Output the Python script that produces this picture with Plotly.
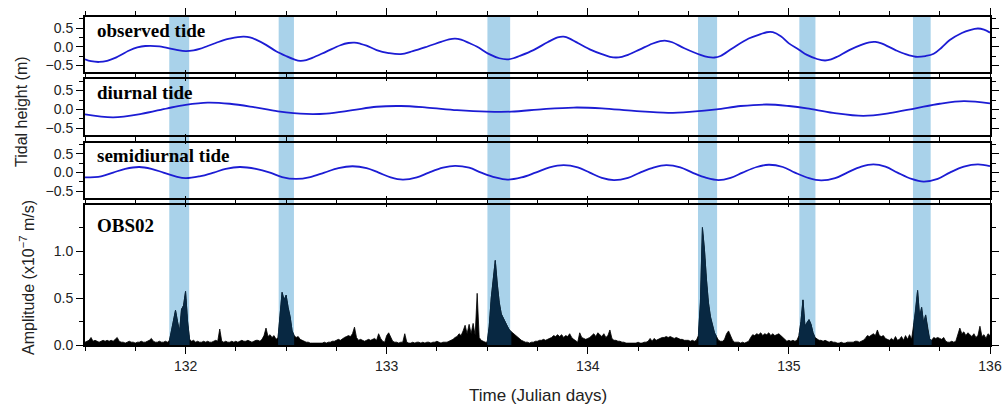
import plotly.graph_objects as go

# ---------------- data ----------------
obs_days = [131.50, 131.53, 131.57, 131.61, 131.65, 131.72, 131.76, 131.80, 131.87, 131.95,
            132.00, 132.04, 132.07, 132.11, 132.15, 132.19, 132.22, 132.26, 132.29, 132.32,
            132.35, 132.40, 132.45, 132.50, 132.54, 132.57, 132.60, 132.63, 132.70, 132.77,
            132.81, 132.84, 132.87, 132.90, 132.95, 133.01, 133.07, 133.13, 133.20, 133.27,
            133.31, 133.34, 133.37, 133.41, 133.45, 133.51, 133.56, 133.60, 133.63, 133.66,
            133.73, 133.80, 133.85, 133.88, 133.91, 133.94, 134.01, 134.07, 134.11, 134.14,
            134.17, 134.20, 134.26, 134.32, 134.36, 134.39, 134.42, 134.48, 134.56, 134.60,
            134.63, 134.66, 134.72, 134.80, 134.86, 134.89, 134.92, 134.96, 135.00, 135.05,
            135.09, 135.14, 135.18, 135.21, 135.24, 135.30, 135.36, 135.40, 135.43, 135.46,
            135.53, 135.58, 135.63, 135.68, 135.72, 135.76, 135.80, 135.86, 135.90, 135.94,
            135.97, 136.00]
obs_vals = [-0.34, -0.39, -0.41, -0.38, -0.30, -0.10, -0.02, 0.02, 0.01, -0.08,
            -0.12, -0.10, -0.06, 0.02, 0.10, 0.18, 0.22, 0.26, 0.27, 0.25,
            0.19, 0.05, -0.12, -0.25, -0.34, -0.38, -0.36, -0.30, -0.13, 0.04,
            0.10, 0.11, 0.08, 0.03, -0.09, -0.17, -0.20, -0.12, 0.00, 0.13,
            0.20, 0.22, 0.19, 0.10, 0.00, -0.20, -0.31, -0.34, -0.31, -0.25,
            -0.09, 0.12, 0.25, 0.27, 0.22, 0.13, -0.07, -0.20, -0.27, -0.29,
            -0.27, -0.22, -0.07, 0.08, 0.15, 0.16, 0.12, -0.04, -0.22, -0.28,
            -0.29, -0.25, -0.04, 0.22, 0.34, 0.39, 0.39, 0.28, 0.09, -0.08,
            -0.22, -0.33, -0.37, -0.34, -0.27, -0.09, 0.05, 0.12, 0.13, 0.09,
            -0.09, -0.20, -0.27, -0.25, -0.19, -0.02, 0.18, 0.37, 0.45, 0.49,
            0.46, 0.38]

diu_days = [131.50, 131.64, 131.78, 131.91, 132.00, 132.11, 132.22, 132.34, 132.46, 132.60,
            132.70, 132.83, 132.95, 133.07, 133.20, 133.35, 133.50, 133.62, 133.78, 133.93,
            134.07, 134.23, 134.40, 134.52, 134.64, 134.76, 134.89, 135.00, 135.09, 135.22,
            135.37, 135.50, 135.63, 135.75, 135.87, 136.00]
diu_vals = [-0.13, -0.21, -0.12, 0.03, 0.12, 0.18, 0.15, 0.06, -0.05, -0.12,
            -0.11, -0.02, 0.07, 0.09, 0.05, -0.02, -0.06, -0.06, 0.01, 0.05,
            0.03, -0.04, -0.09, -0.06, 0.00, 0.09, 0.13, 0.09, 0.03, -0.09,
            -0.17, -0.10, 0.03, 0.15, 0.22, 0.16]

semi_days = [131.50, 131.58, 131.64, 131.70, 131.77, 131.83, 131.89, 131.95, 132.00, 132.07,
             132.14, 132.20, 132.27, 132.35, 132.42, 132.48, 132.55, 132.62, 132.69, 132.76,
             132.83, 132.90, 132.96, 133.02, 133.08, 133.15, 133.21, 133.28, 133.34, 133.41,
             133.47, 133.54, 133.60, 133.67, 133.74, 133.81, 133.88, 133.95, 134.01, 134.07,
             134.13, 134.20, 134.26, 134.33, 134.39, 134.46, 134.52, 134.59, 134.65, 134.71,
             134.77, 134.84, 134.90, 134.97, 135.03, 135.10, 135.16, 135.23, 135.29, 135.36,
             135.42, 135.48, 135.54, 135.61, 135.67, 135.74, 135.80, 135.87, 135.94, 136.00]
semi_vals = [-0.13, -0.10, 0.00, 0.10, 0.15, 0.10, 0.00, -0.10, -0.15, -0.10,
             0.00, 0.10, 0.15, 0.10, 0.00, -0.12, -0.17, -0.12, 0.00, 0.12,
             0.17, 0.12, 0.00, -0.13, -0.19, -0.13, 0.00, 0.13, 0.18, 0.13,
             0.00, -0.13, -0.19, -0.13, 0.00, 0.14, 0.20, 0.14, 0.00, -0.14,
             -0.20, -0.14, 0.00, 0.14, 0.20, 0.14, 0.00, -0.14, -0.20, -0.14,
             0.00, 0.15, 0.21, 0.15, 0.00, -0.15, -0.21, -0.15, 0.00, 0.16,
             0.22, 0.16, 0.00, -0.17, -0.24, -0.17, 0.00, 0.16, 0.22, 0.17]

# OBS02 amplitude, one value every 0.01 day from 131.50 to 136.00
amp_start = 131.50
amp_step = 0.01
amp_vals = [
    0.03, 0.04, 0.05, 0.08, 0.04, 0.05, 0.04, 0.03, 0.04, 0.05,   # 131.5
    0.04, 0.05, 0.04, 0.05, 0.04, 0.06, 0.08, 0.04, 0.03, 0.03,   # 131.6
    0.02, 0.03, 0.04, 0.03, 0.03, 0.02, 0.03, 0.03, 0.04, 0.03,   # 131.7
    0.03, 0.04, 0.05, 0.07, 0.04, 0.03, 0.03, 0.04, 0.03, 0.03,   # 131.8
    0.04, 0.03, 0.05, 0.15, 0.28, 0.37, 0.25, 0.14, 0.38, 0.42,   # 131.9
    0.57, 0.25, 0.06, 0.04, 0.05, 0.03, 0.04, 0.03, 0.03, 0.04,   # 132.0
    0.03, 0.04, 0.03, 0.03, 0.04, 0.05, 0.04, 0.17, 0.04, 0.03,   # 132.1
    0.04, 0.03, 0.03, 0.04, 0.03, 0.04, 0.03, 0.04, 0.05, 0.04,   # 132.2
    0.04, 0.05, 0.04, 0.03, 0.04, 0.05, 0.05, 0.04, 0.06, 0.10,   # 132.3
    0.18, 0.09, 0.11, 0.08, 0.10, 0.06, 0.08, 0.35, 0.56, 0.48,   # 132.4
    0.53, 0.40, 0.30, 0.15, 0.10, 0.08, 0.09, 0.06, 0.05, 0.04,   # 132.5
    0.03, 0.03, 0.02, 0.02, 0.02, 0.02, 0.02, 0.02, 0.02, 0.03,   # 132.6
    0.02, 0.03, 0.03, 0.04, 0.04, 0.05, 0.06, 0.05, 0.07, 0.08,   # 132.7
    0.09, 0.10, 0.09, 0.12, 0.19, 0.08, 0.05, 0.06, 0.05, 0.04,   # 132.8
    0.05, 0.06, 0.05, 0.06, 0.07, 0.05, 0.12, 0.07, 0.04, 0.03,   # 132.9
    0.10, 0.13, 0.08, 0.04, 0.03, 0.03, 0.02, 0.03, 0.03, 0.12,   # 133.0
    0.03, 0.02, 0.02, 0.03, 0.02, 0.03, 0.03, 0.02, 0.03, 0.02,   # 133.1
    0.03, 0.03, 0.02, 0.03, 0.03, 0.04, 0.03, 0.02, 0.03, 0.03,   # 133.2
    0.03, 0.04, 0.05, 0.06, 0.08, 0.09, 0.12, 0.10, 0.15, 0.21,   # 133.3
    0.12, 0.22, 0.12, 0.23, 0.10, 0.55, 0.08, 0.05, 0.04, 0.03,   # 133.4
    0.03, 0.20, 0.50, 0.68, 0.90, 0.65, 0.45, 0.33, 0.28, 0.25,   # 133.5
    0.20, 0.16, 0.14, 0.12, 0.10, 0.08, 0.07, 0.05, 0.04, 0.03,   # 133.6
    0.03, 0.02, 0.03, 0.03, 0.04, 0.04, 0.05, 0.05, 0.06, 0.05,   # 133.7
    0.06, 0.07, 0.08, 0.10, 0.09, 0.11, 0.09, 0.11, 0.08, 0.10,   # 133.8
    0.09, 0.12, 0.08, 0.06, 0.04, 0.03, 0.13, 0.08, 0.07, 0.06,   # 133.9
    0.07, 0.08, 0.10, 0.12, 0.09, 0.13, 0.11, 0.09, 0.12, 0.08,   # 134.0
    0.10, 0.16, 0.07, 0.05, 0.05, 0.04, 0.04, 0.03, 0.03, 0.02,   # 134.1
    0.02, 0.02, 0.02, 0.02, 0.02, 0.03, 0.02, 0.02, 0.03, 0.03,   # 134.2
    0.04, 0.07, 0.04, 0.07, 0.05, 0.06, 0.07, 0.08, 0.08, 0.09,   # 134.3
    0.08, 0.09, 0.08, 0.07, 0.08, 0.07, 0.06, 0.06, 0.05, 0.05,   # 134.4
    0.05, 0.04, 0.05, 0.04, 0.05, 0.10, 0.45, 1.25, 1.02, 0.70,   # 134.5
    0.45, 0.30, 0.20, 0.13, 0.09, 0.05, 0.04, 0.04, 0.06, 0.12,   # 134.6
    0.15, 0.10, 0.05, 0.03, 0.03, 0.03, 0.02, 0.03, 0.02, 0.03,   # 134.7
    0.04, 0.08, 0.11, 0.10, 0.12, 0.11, 0.13, 0.10, 0.12, 0.11,   # 134.8
    0.13, 0.10, 0.12, 0.10, 0.11, 0.12, 0.10, 0.08, 0.05, 0.04,   # 134.9
    0.05, 0.04, 0.05, 0.04, 0.05, 0.10, 0.25, 0.48, 0.20, 0.24,   # 135.0
    0.27, 0.22, 0.13, 0.08, 0.06, 0.05, 0.05, 0.04, 0.05, 0.04,   # 135.1
    0.03, 0.04, 0.03, 0.03, 0.02, 0.02, 0.03, 0.02, 0.02, 0.03,   # 135.2
    0.03, 0.03, 0.03, 0.04, 0.04, 0.03, 0.04, 0.05, 0.07, 0.10,   # 135.3
    0.09, 0.11, 0.12, 0.10, 0.16, 0.10, 0.09, 0.10, 0.07, 0.06,   # 135.4
    0.05, 0.07, 0.05, 0.09, 0.05, 0.06, 0.09, 0.05, 0.10, 0.06,   # 135.5
    0.11, 0.06, 0.20, 0.36, 0.58, 0.30, 0.40, 0.23, 0.32, 0.16,   # 135.6
    0.06, 0.05, 0.08, 0.07, 0.08, 0.07, 0.06, 0.08, 0.04, 0.03,   # 135.7
    0.03, 0.04, 0.03, 0.04, 0.10, 0.18, 0.12, 0.14, 0.10, 0.13,   # 135.8
    0.11, 0.09, 0.12, 0.08, 0.10, 0.20, 0.09, 0.11, 0.07, 0.12,   # 135.9
    0.10,                                                         # 136.0
]
amp_days = [round(amp_start + i * amp_step, 2) for i in range(len(amp_vals))]

# shaded intervals (Julian days)
band_starts = [131.919, 132.463, 133.501, 134.548, 135.052, 135.617]
band_ends = [132.018, 132.539, 133.614, 134.643, 135.132, 135.705]

panel_labels = ["observed tide", "diurnal tide", "semidiurnal tide", "OBS02"]

# ---------------- styling ----------------
TIDE_COLOR = "rgb(28,28,212)"
BAND_COLOR = "#a9d2ea"
DARK_FILL = "rgb(8,40,66)"
FONT = "Liberation Sans, Arial, sans-serif"
SERIF = "Liberation Serif, Times New Roman, serif"

H = 328.0  # plot area height in px (17 -> 345)


def dom(top_px, bot_px):
    return [(345 - bot_px) / H, (345 - top_px) / H]


domains = [dom(17, 72), dom(79.3, 135), dom(142.7, 198), dom(205, 345)]

fig = go.Figure()

tides = [(obs_days, obs_vals), (diu_days, diu_vals), (semi_days, semi_vals)]
for i, (d, v) in enumerate(tides):
    fig.add_trace(go.Scatter(x=d, y=v, mode="lines",
                             line=dict(color=TIDE_COLOR, width=1.8, shape="spline", smoothing=1.0),
                             xaxis=f"x{i+1}" if i else "x", yaxis=f"y{i+1}" if i else "y",
                             showlegend=False, hoverinfo="skip"))

fig.add_trace(go.Scatter(x=amp_days, y=amp_vals, mode="lines", fill="tozeroy",
                         line=dict(color="black", width=0.8), fillcolor="black",
                         xaxis="x4", yaxis="y4", showlegend=False, hoverinfo="skip"))

# darker fill inside shaded intervals
for b0, b1 in zip(band_starts, band_ends):
    xs, ys = [], []
    for d, v in zip(amp_days, amp_vals):
        if b0 - 0.006 <= d <= b1 + 0.006:
            xs.append(d)
            ys.append(v)
    fig.add_trace(go.Scatter(x=xs, y=ys, mode="lines", fill="tozeroy",
                             line=dict(color=DARK_FILL, width=0.8), fillcolor=DARK_FILL,
                             xaxis="x4", yaxis="y4", showlegend=False, hoverinfo="skip"))

for b0, b1 in zip(band_starts, band_ends):
    fig.add_shape(type="rect", xref="x4", yref="paper", x0=b0, x1=b1, y0=0, y1=1,
                  fillcolor=BAND_COLOR, line=dict(width=0), layer="below")

common_x = dict(range=[131.5, 136], showline=True, linewidth=2, linecolor="black",
                mirror="ticks", ticks="outside", ticklen=7, tickwidth=1.2, tickcolor="black",
                dtick=1, tick0=132, showgrid=False, zeroline=False, automargin=False,
                minor=dict(dtick=0.25, tick0=131.5, ticks="outside", ticklen=4,
                           tickwidth=1.2, tickcolor="black", showgrid=False),
                tickfont=dict(family=FONT, size=14, color="#222"))
common_y = dict(showline=True, linewidth=2, linecolor="black", mirror="ticks",
                ticks="outside", ticklen=7, tickwidth=1.2, tickcolor="black",
                showgrid=False, zeroline=False, dtick=0.5, tick0=0, tickformat=".1f",
                automargin=False,
                minor=dict(dtick=0.25, tick0=0, ticks="outside", ticklen=4,
                           tickwidth=1.2, tickcolor="black", showgrid=False),
                tickfont=dict(family=FONT, size=14, color="#222"))

layout = dict(width=1003, height=405, margin=dict(l=85, r=13, t=17, b=60),
              paper_bgcolor="white", plot_bgcolor="rgba(0,0,0,0)", showlegend=False)
for i in range(4):
    xa = "xaxis" if i == 0 else f"xaxis{i+1}"
    ya = "yaxis" if i == 0 else f"yaxis{i+1}"
    yname = "y" if i == 0 else f"y{i+1}"
    xcfg = dict(common_x, anchor=yname, showticklabels=(i == 3))
    if i < 3:
        xcfg["matches"] = "x4"
    layout[xa] = xcfg
    ycfg = dict(common_y, domain=domains[i], anchor="x" if i == 0 else f"x{i+1}")
    ycfg["range"] = [-0.68, 0.80] if i < 3 else [0, 1.49]
    layout[ya] = ycfg

fig.update_layout(**layout)

label_y_px = [30, 92, 155.5, 225]
for lab, py in zip(panel_labels, label_y_px):
    fig.add_annotation(text=f"<b>{lab}</b>", xref="paper", yref="paper",
                       x=(95 - 85) / 905, y=(345 - py) / H, xanchor="left", yanchor="middle",
                       showarrow=False, font=dict(family=SERIF, size=19, color="black"))

fig.add_annotation(text="Tidal height (m)", xref="paper", yref="paper",
                   x=(21 - 85) / 905, y=(345 - 112) / H, textangle=-90,
                   xanchor="center", yanchor="middle", showarrow=False,
                   font=dict(family=FONT, size=16, color="#222"))
fig.add_annotation(text="Amplitude (x10<sup>\u22127</sup> m/s)", xref="paper", yref="paper",
                   x=(27 - 85) / 905, y=(345 - 278) / H, textangle=-90,
                   xanchor="center", yanchor="middle", showarrow=False,
                   font=dict(family=FONT, size=16, color="#222"))
fig.add_annotation(text="Time (Julian days)", xref="paper", yref="paper",
                   x=0.5, y=(345 - 395) / H, xanchor="center", yanchor="middle",
                   showarrow=False, font=dict(family=FONT, size=17, color="#222"))

fig.write_html("out.html")
